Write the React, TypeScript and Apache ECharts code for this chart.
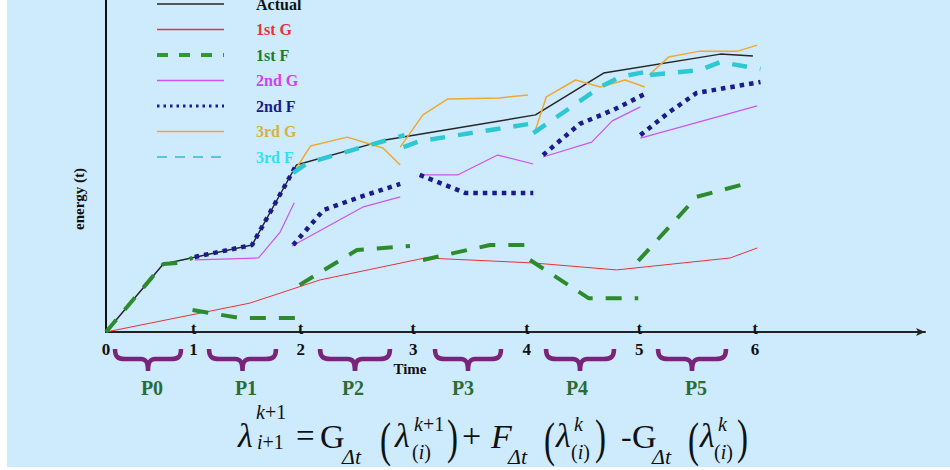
import React, { useEffect, useRef } from 'react';
import * as echarts from 'echarts';

// ---- axis / labels ----
const tickPos = [0, 0.81, 1.8, 2.84, 3.89, 4.93, 6.0];
const tickLabels = ['0', '1', '2', '3', '4', '5', '6'];
const periodLabels = ['P0', 'P1', 'P2', 'P3', 'P4', 'P5'];
const X_MAX = 7.571;
const Y_MAX = 100;

// ---- series values: [time, energy] ----
const actual = [[0, 0], [0.53, 20.5], [1.35, 26.2], [1.76, 50.3], [2.58, 57.8], [3.97, 65.4], [4.6, 78.0], [5.68, 83.7], [5.98, 83.1]];
const firstG = [[0, 0], [1.33, 8.7], [1.98, 15.7], [2.95, 22.3], [3.95, 20.8], [4.72, 18.7], [5.77, 22.3], [6.02, 25.3]];
const firstF = [
  [[0, 0], [0.53, 20.5], [0.67, 20.8], [0.8, 22.3]],
  [[0.8, 6.6], [1.24, 4.2], [1.82, 4.2]],
  [[1.79, 14.2], [2.32, 24.7], [2.81, 25.9]],
  [[2.93, 21.7], [3.55, 26.2], [3.95, 26.2]],
  [[3.92, 21.7], [4.46, 10.2], [4.92, 10.2]],
  [[4.92, 21.4], [5.46, 40.7], [5.94, 44.9]],
];
const secondG = [
  [[0.82, 21.7], [1.41, 22.3], [1.61, 30.1], [1.74, 38.9]],
  [[1.72, 25.9], [2.38, 37.7], [2.72, 40.7]],
  [[2.9, 47.3], [3.25, 47.3], [3.62, 53.3], [3.95, 50.6]],
  [[4.04, 52.7], [4.49, 57.2], [4.68, 63.6], [4.94, 67.8]],
  [[4.94, 58.4], [6.02, 68.1]],
];
const secondF = [
  [[0.82, 22.6], [1.35, 26.2], [1.76, 50.3]],
  [[1.73, 26.2], [2.01, 36.7], [2.35, 40.7], [2.72, 44.6]],
  [[2.9, 47.3], [3.32, 41.9], [3.95, 41.9]],
  [[4.04, 53.3], [4.38, 62.7], [4.69, 66.9], [5.0, 72.0]],
  [[4.94, 59.3], [5.21, 66.3], [5.46, 72.0], [6.05, 75.3]],
];
const thirdG = [
  [[1.76, 49.4], [1.89, 56.0], [2.23, 58.7], [2.56, 55.4], [2.72, 50.3]],
  [[2.72, 55.7], [2.93, 65.4], [3.16, 70.2], [3.64, 70.5], [3.9, 71.4]],
  [[3.96, 59.9], [4.07, 70.8], [4.34, 75.9], [4.57, 73.8], [4.8, 75.9], [4.98, 73.8]],
  [[5.02, 77.4], [5.2, 82.8], [5.49, 84.6], [5.84, 84.6], [6.02, 86.4]],
];
const thirdF = [
  [[1.73, 47.9], [1.86, 50.9], [2.76, 59.3]],
  [[2.75, 55.7], [2.9, 57.5], [3.92, 62.7]],
  [[3.95, 59.9], [4.57, 73.8], [4.75, 76.8], [4.98, 78.3]],
  [[5.03, 77.4], [5.49, 78.9], [5.68, 81.3], [6.05, 79.2]],
];

const seriesNames = ['Actual', '1st G', '1st F', '2nd G', '2nd F', '3rd G', '3rd F'];
const seriesSegments: number[][][][] = [[actual], [firstG], firstF, secondG, secondF, thirdG, thirdF];

const SERIF = '"Liberation Serif", "Times New Roman", serif';
const OX = 7; // chart area starts 7px from page left

const lineStyles: Record<string, any> = {
  'Actual': { color: '#262626', width: 1.5, type: 'solid' },
  '1st G': { color: '#e8323a', width: 1, type: 'solid' },
  '1st F': { color: '#2d8a2d', width: 4, type: [16, 13] },
  '2nd G': { color: '#cc55ee', width: 1.2, type: 'solid' },
  '2nd F': { color: '#1c1a8c', width: 4.5, type: [4.5, 5] },
  '3rd G': { color: '#f0a830', width: 1.5, type: 'solid' },
  '3rd F': { color: '#2ec8d4', width: 4.5, type: [15, 13] },
};
const legendLine: Record<string, any> = {
  'Actual': { color: '#262626', width: 1.5, type: 'solid' },
  '1st G': { color: '#e8323a', width: 1.5, type: 'solid' },
  '1st F': { color: '#2d9a2d', width: 4, type: [11, 11] },
  '2nd G': { color: '#cc55ee', width: 1.5, type: 'solid' },
  '2nd F': { color: '#1c1a9c', width: 3, type: [2.5, 4] },
  '3rd G': { color: '#f0a830', width: 1.5, type: 'solid' },
  '3rd F': { color: '#5cc4e0', width: 2, type: [10, 8] },
};
const legendText: Record<string, string> = {
  'Actual': '#111111',
  '1st G': '#e8323a',
  '1st F': '#1e7a2a',
  '2nd G': '#cc44ee',
  '2nd F': '#1a1a8a',
  '3rd G': '#d9b040',
  '3rd F': '#33e0f0',
};

// curly brace shape (opening downward), local width 70, height 22
echarts.graphic.registerShape(
  'brace',
  echarts.graphic.extendPath(
    'M 2 0 C 2 8 5 10 12 10 L 28 10 C 33 10 35 13 35 22 C 35 13 37 10 42 10 L 58 10 C 65 10 68 8 68 0',
    {}
  )
);

const braceSpans = [[113, 183], [207, 278], [318, 392], [433, 503], [544, 616], [656, 728]];
const periodLabelX = [152, 246, 353, 463, 577, 696];

function ftext(text: string, x: number, base: number, size: number, italic = false, rich?: any) {
  return {
    type: 'text',
    x: x - OX,
    y: base - 0.34 * size,
    z: 10,
    style: {
      text,
      fontFamily: SERIF,
      fontSize: size,
      fontStyle: italic ? 'italic' : 'normal',
      fill: '#111',
      align: 'left',
      verticalAlign: 'middle',
      rich,
    },
  };
}
// tall thin parenthesis: smaller font stretched vertically around its centre
function paren(text: string, x: number, center: number) {
  return {
    type: 'text',
    x: x - OX,
    y: center - 4,
    scaleY: 1.5,
    z: 10,
    style: {
      text,
      fontFamily: SERIF,
      fontSize: 33,
      fill: '#111',
      align: 'left',
      verticalAlign: 'middle',
    },
  };
}
const itRich = { i: { fontStyle: 'italic', fontFamily: SERIF, fontSize: 20, fill: '#111' } };

function buildOption() {
  const series: any[] = [];
  seriesNames.forEach((name, si) => {
    seriesSegments[si].forEach((seg) => {
      series.push({
        name,
        type: 'line',
        xAxisIndex: 0,
        yAxisIndex: 0,
        data: seg,
        symbol: 'none',
        silent: true,
        z: 2 + si,
        lineStyle: { ...lineStyles[name], cap: 'butt' },
        itemStyle: { color: lineStyles[name].color },
      });
    });
  });

  const graphics: any[] = [];
  braceSpans.forEach(([a, b]) => {
    graphics.push({
      type: 'brace',
      x: a - OX,
      y: 349,
      scaleX: (b - a) / 70,
      scaleY: 1,
      style: { stroke: '#7b237b', lineWidth: 4.5, fill: 'none', lineCap: 'butt' },
    });
  });
  periodLabels.forEach((p, i) => {
    graphics.push({
      type: 'text',
      x: periodLabelX[i] - OX,
      y: 388,
      style: { text: p, fontFamily: SERIF, fontWeight: 'bold', fontSize: 20, fill: '#2d6b35', align: 'center', verticalAlign: 'middle' },
    });
  });
  graphics.push({
    type: 'text', x: 410 - OX, y: 369,
    style: { text: 'Time', fontFamily: SERIF, fontWeight: 'bold', fontSize: 15, fill: '#111', align: 'center', verticalAlign: 'middle' },
  });
  graphics.push({
    type: 'text', x: 79 - OX, y: 199, rotation: Math.PI / 2,
    style: { text: 'energy (t)', fontFamily: SERIF, fontWeight: 'bold', fontSize: 15, fill: '#111', align: 'center', verticalAlign: 'middle' },
  });

  // formula
  const f: any[] = [
    ftext('λ', 238, 447, 34, true),
    ftext('{i|k}+1', 256, 419, 20, false, itRich),
    ftext('{i|i}+1', 257, 449, 20, false, itRich),
    ftext('=', 296, 447, 33),
    ftext('G', 320, 448, 34),
    ftext('Δt', 342, 464, 22, true),
    paren('(', 380, 444),
    ftext('λ', 395, 447, 34, true),
    ftext('{i|k}+1', 414, 431, 20, false, itRich),
    ftext('({i|i})', 412, 459, 20, false, itRich),
    paren(')', 447, 441),
    ftext('+', 462, 447, 34),
    ftext('F', 491, 448, 34, true),
    ftext('Δt', 508, 464, 22, true),
    paren('(', 544, 444),
    ftext('λ', 556, 447, 34, true),
    ftext('k', 574, 431, 20, true),
    ftext('({i|i})', 571, 459, 20, false, itRich),
    paren(')', 595, 441),
    ftext('-', 621, 447, 32),
    ftext('G', 632, 448, 34),
    ftext('Δt', 652, 464, 22, true),
    paren('(', 688, 444),
    ftext('λ', 700, 447, 34, true),
    ftext('k', 718, 431, 20, true),
    ftext('({i|i})', 714, 459, 20, false, itRich),
    paren(')', 737, 441),
  ];
  graphics.push(...f);

  const labelFor = (v: number) => {
    const i = tickPos.findIndex((p) => Math.abs(p - v) < 1e-6);
    return i >= 0 ? tickLabels[i] : '';
  };

  return {
    animation: false,
    backgroundColor: '#cdebfd',
    grid: { left: 99, right: 25, top: 0, bottom: 135, containLabel: false },
    legend: {
      orient: 'vertical',
      left: 155 - OX,
      top: -4,
      padding: 0,
      itemWidth: 67,
      itemHeight: 14,
      itemGap: 9.5,
      selectedMode: false,
      textStyle: { fontFamily: SERIF, fontWeight: 'bold', fontSize: 16, lineHeight: 14, padding: [0, 0, 0, 27] },
      data: seriesNames.map((name) => ({
        name,
        lineStyle: legendLine[name],
        itemStyle: { color: legendLine[name].color, opacity: 0 },
        textStyle: { color: legendText[name] },
      })),
    },
    xAxis: [
      {
        type: 'value',
        min: 0,
        max: X_MAX,
        axisLine: {
          show: true,
          onZero: true,
          symbol: ['none', 'arrow'],
          symbolSize: [6, 9],
          lineStyle: { color: '#222', width: 2 },
        },
        axisTick: { show: false },
        splitLine: { show: false },
        axisLabel: {
          customValues: tickPos,
          formatter: (v: number) => labelFor(v),
          fontFamily: SERIF,
          fontWeight: 'bold',
          fontSize: 17,
          color: '#111',
          margin: 9,
        },
      },
      {
        type: 'value',
        min: 0,
        max: X_MAX,
        position: 'bottom',
        offset: 0,
        axisLine: { show: false },
        axisTick: { show: false },
        splitLine: { show: false },
        axisLabel: {
          inside: true,
          customValues: tickPos.slice(1),
          formatter: () => 't',
          fontFamily: SERIF,
          fontWeight: 'bold',
          fontSize: 16,
          color: '#111',
          margin: -4,
        },
      },
    ],
    yAxis: {
      type: 'value',
      min: 0,
      max: Y_MAX,
      axisLine: { show: true, onZero: false, lineStyle: { color: '#111', width: 2 } },
      axisTick: { show: false },
      axisLabel: { show: false },
      splitLine: { show: false },
    },
    series,
    graphic: { elements: graphics },
  };
}

export default function App() {
  const ref = useRef<HTMLDivElement>(null);
  useEffect(() => {
    if (!ref.current) return;
    const chart = echarts.init(ref.current, null, { renderer: 'svg' });
    chart.setOption(buildOption() as any);
    return () => chart.dispose();
  }, []);
  return (
    <div style={{ position: 'absolute', left: 0, top: 0, width: 950, height: 470, background: '#ffffff', overflow: 'hidden' }}>
      <div
        ref={ref}
        style={{ position: 'absolute', left: OX, top: 0, width: 943, height: 467, overflow: 'hidden' }}
      />
    </div>
  );
}
